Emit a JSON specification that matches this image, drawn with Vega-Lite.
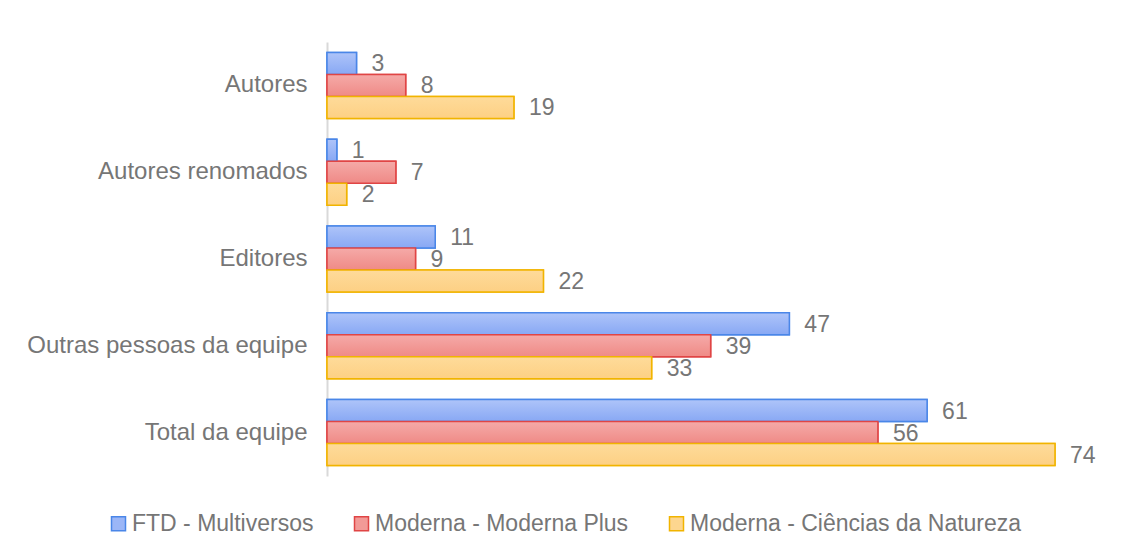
{
  "$schema": "https://vega.github.io/schema/vega-lite/v6.json",
  "width": 787,
  "height": 434,
  "autosize": {"type": "none"},
  "padding": {"left": 327, "top": 42, "right": 17, "bottom": 81},
  "background": "white",
  "config": {"view": {"stroke": null}, "font": "Liberation Sans"},
  "data": {"values": [
    {"cat": "Autores", "serie": "FTD - Multiversos", "v": 3},
    {"cat": "Autores", "serie": "Moderna - Moderna Plus", "v": 8},
    {"cat": "Autores", "serie": "Moderna - Ciências da Natureza", "v": 19},
    {"cat": "Autores renomados", "serie": "FTD - Multiversos", "v": 1},
    {"cat": "Autores renomados", "serie": "Moderna - Moderna Plus", "v": 7},
    {"cat": "Autores renomados", "serie": "Moderna - Ciências da Natureza", "v": 2},
    {"cat": "Editores", "serie": "FTD - Multiversos", "v": 11},
    {"cat": "Editores", "serie": "Moderna - Moderna Plus", "v": 9},
    {"cat": "Editores", "serie": "Moderna - Ciências da Natureza", "v": 22},
    {"cat": "Outras pessoas da equipe", "serie": "FTD - Multiversos", "v": 47},
    {"cat": "Outras pessoas da equipe", "serie": "Moderna - Moderna Plus", "v": 39},
    {"cat": "Outras pessoas da equipe", "serie": "Moderna - Ciências da Natureza", "v": 33},
    {"cat": "Total da equipe", "serie": "FTD - Multiversos", "v": 61},
    {"cat": "Total da equipe", "serie": "Moderna - Moderna Plus", "v": 56},
    {"cat": "Total da equipe", "serie": "Moderna - Ciências da Natureza", "v": 74}
  ]},
  "encoding": {
    "y": {
      "field": "cat", "type": "nominal", "sort": null,
      "scale": {"paddingInner": 0.24, "paddingOuter": 0.12},
      "axis": {"title": null, "ticks": false, "labelFontSize": 24, "labelColor": "#767676", "labelPadding": 20, "labelLimit": 400, "domainColor": "#d9d9d9", "domainWidth": 2, "labelFont": "Liberation Sans"}
    },
    "yOffset": {"field": "serie", "type": "nominal", "scale": {"domain": ["FTD - Multiversos", "Moderna - Moderna Plus", "Moderna - Ciências da Natureza"]}},
    "x": {"field": "v", "type": "quantitative", "scale": {"domain": [0, 80]}, "axis": null}
  },
  "layer": [
    {
      "mark": {"type": "bar", "strokeWidth": 1.5},
      "encoding": {
        "fill": {
          "field": "serie", "type": "nominal",
          "scale": {"domain": ["FTD - Multiversos", "Moderna - Moderna Plus", "Moderna - Ciências da Natureza"], "range": ["#9bb6f7", "#f29a97", "#fdd68f"]},
          "legend": {"orient": "none", "legendX": -220, "legendY": 470, "direction": "horizontal", "title": null, "labelFontSize": 23, "labelColor": "#767676", "labelFont": "Liberation Sans", "labelLimit": 500, "symbolType": "square", "symbolSize": 196, "symbolStrokeWidth": 1.5, "columnPadding": 36, "labelOffset": 2}
        },
        "stroke": {
          "field": "serie", "type": "nominal",
          "scale": {"domain": ["FTD - Multiversos", "Moderna - Moderna Plus", "Moderna - Ciências da Natureza"], "range": ["#4a86e8", "#e04545", "#f1b400"]},
          "legend": null
        }
      }
    },
    {
      "transform": [{"filter": "datum.serie === 'FTD - Multiversos'"}],
      "mark": {"type": "bar", "strokeWidth": 1.5, "stroke": "#4a86e8",
        "fill": {"gradient": "linear", "x1": 0, "y1": 0, "x2": 0, "y2": 1, "stops": [{"offset": 0, "color": "#aec4f9"}, {"offset": 1, "color": "#88a8f4"}]}}
    },
    {
      "transform": [{"filter": "datum.serie === 'Moderna - Moderna Plus'"}],
      "mark": {"type": "bar", "strokeWidth": 1.5, "stroke": "#e04545",
        "fill": {"gradient": "linear", "x1": 0, "y1": 0, "x2": 0, "y2": 1, "stops": [{"offset": 0, "color": "#f5aaa8"}, {"offset": 1, "color": "#ef8a86"}]}}
    },
    {
      "transform": [{"filter": "datum.serie === 'Moderna - Ciências da Natureza'"}],
      "mark": {"type": "bar", "strokeWidth": 1.5, "stroke": "#f1b400",
        "fill": {"gradient": "linear", "x1": 0, "y1": 0, "x2": 0, "y2": 1, "stops": [{"offset": 0, "color": "#fedb9a"}, {"offset": 1, "color": "#fdd084"}]}}
    },
    {
      "mark": {"type": "text", "align": "left", "baseline": "middle", "dx": 15, "dy": 1, "fontSize": 23, "color": "#767676", "font": "Liberation Sans"},
      "encoding": {"text": {"field": "v", "type": "quantitative"}}
    }
  ]
}
